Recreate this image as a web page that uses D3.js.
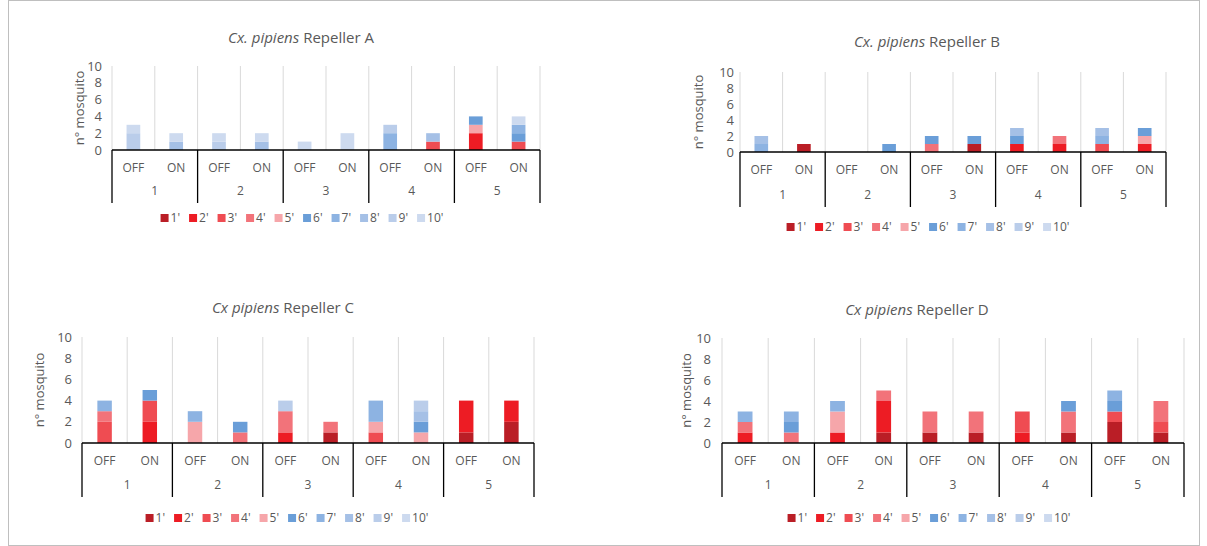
<!DOCTYPE html>
<html>
<head>
<meta charset="utf-8">
<script src="https://cdn.jsdelivr.net/npm/d3@7"></script>
<style>
  body { margin: 0; background: #fff; }
  text { font-family: "Open Sans", "Liberation Sans", sans-serif; fill: #595959; }
</style>
</head>
<body>
<div id="chart"></div>
<script>
// categorie dell'asse x (due livelli)
var groups = ["1", "2", "3", "4", "5"];
var states = ["OFF", "ON"];
var seriesNames = ["1'", "2'", "3'", "4'", "5'", "6'", "7'", "8'", "9'", "10'"];
var seriesColors = ["#BA1E26", "#ED1C24", "#EF4C52", "#F2737A", "#F6A6AA",
                    "#6A9ED8", "#8DB3E2", "#A5C0E6", "#BACDEA", "#CDDAEF"];
var yTicks = [0, 2, 4, 6, 8, 10];

// valori: una riga per serie, 10 colonne = 1 OFF, 1 ON, 2 OFF ... 5 ON
var repellerA = [
    [0, 0, 0, 0, 0, 0, 0, 0, 0, 0],
    [0, 0, 0, 0, 0, 0, 0, 0, 2, 0],
    [0, 0, 0, 0, 0, 0, 0, 1, 0, 1],
    [0, 0, 0, 0, 0, 0, 0, 0, 0, 0],
    [0, 0, 0, 0, 0, 0, 0, 0, 1, 0],
    [0, 0, 0, 0, 0, 0, 0, 0, 1, 1],
    [0, 0, 0, 0, 0, 0, 2, 0, 0, 1],
    [0, 1, 0, 1, 0, 0, 0, 1, 0, 0],
    [2, 0, 1, 0, 0, 0, 1, 0, 0, 0],
    [1, 1, 1, 1, 1, 2, 0, 0, 0, 1]
];
var repellerB = [
    [0, 1, 0, 0, 0, 1, 0, 0, 0, 0],
    [0, 0, 0, 0, 0, 0, 1, 1, 0, 1],
    [0, 0, 0, 0, 0, 0, 0, 0, 1, 0],
    [0, 0, 0, 0, 1, 0, 0, 1, 0, 0],
    [0, 0, 0, 0, 0, 0, 0, 0, 0, 1],
    [0, 0, 0, 1, 1, 1, 1, 0, 0, 1],
    [1, 0, 0, 0, 0, 0, 0, 0, 1, 0],
    [1, 0, 0, 0, 0, 0, 1, 0, 1, 0],
    [0, 0, 0, 0, 0, 0, 0, 0, 0, 0],
    [0, 0, 0, 0, 0, 0, 0, 0, 0, 0]
];
var repellerC = [
    [0, 0, 0, 0, 0, 1, 0, 0, 1, 2],
    [0, 2, 0, 0, 1, 0, 0, 0, 3, 2],
    [2, 2, 0, 0, 0, 0, 1, 0, 0, 0],
    [1, 0, 0, 1, 2, 1, 0, 0, 0, 0],
    [0, 0, 2, 0, 0, 0, 1, 1, 0, 0],
    [0, 1, 0, 1, 0, 0, 0, 1, 0, 0],
    [1, 0, 1, 0, 0, 0, 2, 0, 0, 0],
    [0, 0, 0, 0, 0, 0, 0, 1, 0, 0],
    [0, 0, 0, 0, 1, 0, 0, 1, 0, 0],
    [0, 0, 0, 0, 0, 0, 0, 0, 0, 0]
];
var repellerD = [
    [0, 0, 0, 1, 1, 1, 0, 1, 2, 1],
    [1, 0, 1, 3, 0, 0, 1, 0, 0, 0],
    [0, 0, 0, 0, 0, 0, 2, 0, 1, 1],
    [1, 1, 0, 1, 2, 2, 0, 2, 0, 2],
    [0, 0, 2, 0, 0, 0, 0, 0, 0, 0],
    [0, 1, 0, 0, 0, 0, 0, 1, 1, 0],
    [1, 1, 1, 0, 0, 0, 0, 0, 1, 0],
    [0, 0, 0, 0, 0, 0, 0, 0, 0, 0],
    [0, 0, 0, 0, 0, 0, 0, 0, 0, 0],
    [0, 0, 0, 0, 0, 0, 0, 0, 0, 0]
];

var svg = d3.select("#chart").append("svg")
    .attr("width", 1207)
    .attr("height", 546);
svg.append("rect").attr("width", 1207).attr("height", 546).attr("fill", "#fff");
// cornice esterna
svg.append("rect")
    .attr("x", 8.5).attr("y", 0.5).attr("width", 1191).attr("height", 545)
    .attr("fill", "none").attr("stroke", "#BFBFBF").attr("stroke-width", 1);

function drawPanel(values, p) {
    // p: titolo, posizioni dell'area grafico
    var g = svg.append("g");
    var cats = [];
    groups.forEach(function (gr) {
        states.forEach(function (s) { cats.push(gr + "|" + s); });
    });
    var x = d3.scaleBand().domain(cats).range([p.x0, p.x1]).paddingInner(0.68).paddingOuter(0.34);
    var y = d3.scaleLinear().domain([0, 10]).range([p.y0, p.y1]);
    var step = x.step();

    // titolo
    var title = g.append("text")
        .attr("x", p.tx).attr("y", p.ty)
        .attr("text-anchor", "middle")
        .style("font-size", "15px");
    title.append("tspan").style("font-style", "italic").text(p.italic);
    title.append("tspan").text(" Repeller " + p.letter);

    // griglia verticale tra le categorie
    var bounds = d3.range(cats.length + 1).map(function (i) { return p.x0 + i * step; });
    g.selectAll(".grid").data(bounds).enter().append("line")
        .attr("x1", function (d) { return d; }).attr("x2", function (d) { return d; })
        .attr("y1", y(10)).attr("y2", y(0))
        .attr("stroke", "#D9D9D9").attr("stroke-width", 1);

    // asse y
    var yAxis = d3.axisLeft(y).tickValues(yTicks).tickSize(0).tickPadding(p.pad);
    var ya = g.append("g").attr("transform", "translate(" + p.x0 + ",0)").call(yAxis);
    ya.select(".domain").remove();
    ya.selectAll("text").style("font-size", "13px").attr("fill", "#595959");

    g.append("text")
        .attr("transform", "translate(" + p.yt + "," + ((y(0) + y(10)) / 2) + ") rotate(-90)")
        .attr("text-anchor", "middle")
        .style("font-size", "13px")
        .text("n° mosquito");

    // barre impilate
    var rows = cats.map(function (c, i) {
        var r = { cat: c };
        seriesNames.forEach(function (s, k) { r[s] = values[k][i]; });
        return r;
    });
    var stacked = d3.stack().keys(seriesNames)(rows);
    g.selectAll(".layer").data(stacked).enter().append("g")
        .attr("fill", function (d, k) { return seriesColors[k]; })
        .selectAll("rect").data(function (d) { return d; }).enter().append("rect")
        .filter(function (d) { return d[1] > d[0]; })
        .attr("x", function (d) { return x(d.data.cat); })
        .attr("width", x.bandwidth())
        .attr("y", function (d) { return y(d[1]); })
        .attr("height", function (d) { return y(d[0]) - y(d[1]); });

    // asse categorie con riquadri
    var bottom = p.yb;
    g.append("line").attr("x1", p.x0).attr("x2", p.x1).attr("y1", y(0)).attr("y2", y(0))
        .attr("stroke", "#000").attr("stroke-width", 1.3);
    var gb = d3.range(groups.length + 1).map(function (i) { return p.x0 + i * 2 * step; });
    g.selectAll(".gline").data(gb).enter().append("line")
        .attr("x1", function (d) { return d; }).attr("x2", function (d) { return d; })
        .attr("y1", y(0)).attr("y2", bottom)
        .attr("stroke", "#000").attr("stroke-width", 1.3);
    g.selectAll(".state").data(cats).enter().append("text")
        .attr("x", function (d) { return x(d) + x.bandwidth() / 2; })
        .attr("y", y(0) + 22)
        .attr("text-anchor", "middle")
        .style("font-size", "12px")
        .text(function (d) { return d.split("|")[1]; });
    g.selectAll(".grp").data(groups).enter().append("text")
        .attr("x", function (d, i) { return p.x0 + (i * 2 + 1) * step; })
        .attr("y", bottom - 8)
        .attr("text-anchor", "middle")
        .style("font-size", "12px")
        .text(function (d) { return d; });

    // legenda
    var lg = g.append("g");
    var lx = 0;
    seriesNames.forEach(function (s, k) {
        lg.append("rect").attr("x", lx).attr("y", -8).attr("width", 8).attr("height", 8)
            .attr("fill", seriesColors[k]);
        var t = lg.append("text").attr("x", lx + 10).attr("y", 0)
            .style("font-size", "12px").text(s);
        lx += 10 + t.node().getComputedTextLength() + 9;
    });
    lg.attr("transform", "translate(" + (p.lc - (lx - 9) / 2) + "," + p.ly + ")");
}

drawPanel(repellerA, { italic: "Cx. pipiens", letter: "A", tx: 301, ty: 43,
    x0: 112, x1: 540, y0: 150, y1: 66, yb: 203, pad: 10, yt: 84, lc: 302, ly: 222 });
drawPanel(repellerB, { italic: "Cx. pipiens", letter: "B", tx: 927, ty: 47,
    x0: 740, x1: 1166, y0: 152, y1: 72, yb: 207, pad: 6, yt: 703, lc: 928, ly: 231 });
drawPanel(repellerC, { italic: "Cx pipiens", letter: "C", tx: 283, ty: 313,
    x0: 82, x1: 534, y0: 443, y1: 337, yb: 497, pad: 10, yt: 44, lc: 287, ly: 522 });
drawPanel(repellerD, { italic: "Cx pipiens", letter: "D", tx: 917, ty: 315,
    x0: 722, x1: 1184, y0: 443, y1: 338, yb: 497, pad: 11, yt: 691, lc: 929, ly: 522 });
</script>
</body>
</html>
